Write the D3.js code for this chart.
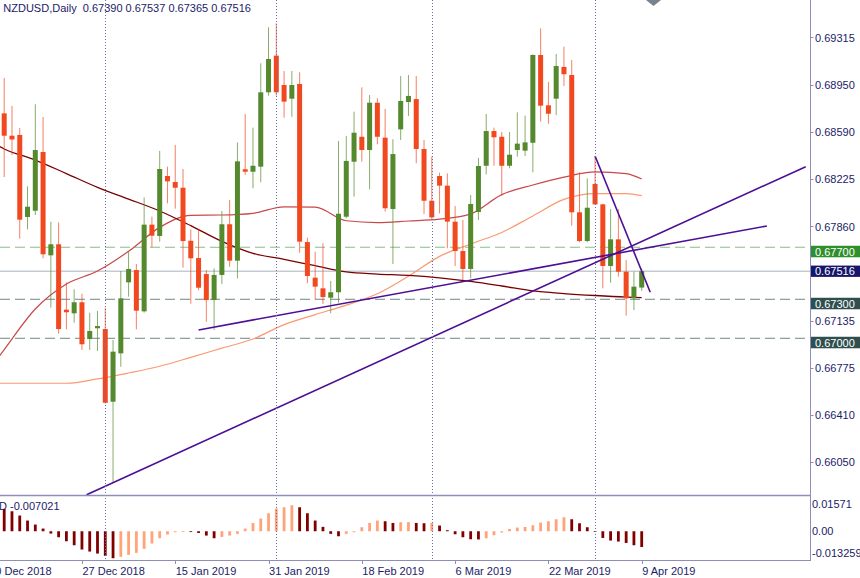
<!DOCTYPE html>
<html><head><meta charset="utf-8">
<script src="https://cdn.jsdelivr.net/npm/d3@7"></script>
<style>
html,body{margin:0;padding:0;background:#fff;}
svg{display:block;font-family:"Liberation Sans",Arial,sans-serif;}
</style></head>
<body>
<svg id="c" width="860" height="578"></svg>
<script>
// ---------------- DATA ----------------
const symbolTitle = "NZDUSD,Daily  0.67390 0.67537 0.67365 0.67516";
const opens  = [.68730,.68558,.68564,.67933,.67981,.68433,.67638,.67723,.67220,.67192,.67277,.66994,.67077,.67071,.66512,.66884,.67430,.67525,.67207,.67874,.67787,.68248,.68202,.68158,.67750,.67617,.67494,.67294,.67487,.67877,.67597,.68300,.68281,.68320,.68892,.69174,.68948,.68843,.68956,.67740,.67466,.67384,.67312,.67354,.67935,.68358,.68550,.68448,.68812,.68543,.67994,.68607,.68817,.68840,.68456,.68058,.68248,.68174,.67897,.67671,.67533,.67971,.68327,.68594,.68550,.68327,.68448,.68443,.68504,.69179,.68792,.68843,.69087,.69025,.67969,.67748,.68187,.68030,.67556,.67761,.67512,.67307,.67390];
const highs  = [.69002,.68787,.68617,.68169,.68800,.68702,.67897,.67892,.67430,.67377,.67343,.67197,.67210,.67235,.66987,.67517,.67666,.67571,.68084,.67935,.68441,.68320,.68487,.68302,.67838,.67838,.67525,.67538,.67979,.68064,.68507,.68725,.68620,.69115,.69392,.69423,.69056,.69056,.69046,.67774,.67666,.67731,.67441,.68517,.68556,.68743,.68930,.68871,.68846,.68764,.68531,.69017,.69025,.69017,.68525,.68397,.68274,.68269,.68017,.67910,.68102,.68387,.68725,.68620,.68587,.68587,.68738,.68712,.69184,.69384,.68971,.69187,.69243,.69140,.68277,.68230,.68397,.68035,.67994,.67994,.67602,.67512,.67537];
const lows   = [.68240,.68410,.67766,.67838,.67948,.67615,.67235,.67035,.67069,.67120,.66910,.66910,.66902,.66498,.65887,.66781,.67320,.67069,.67197,.67700,.67743,.68038,.67997,.67543,.67266,.67371,.67127,.67064,.67417,.67550,.67461,.68256,.68154,.68200,.68866,.68866,.68697,.68704,.67658,.67423,.67300,.67264,.67192,.67274,.67923,.68089,.68358,.68146,.68492,.67974,.67571,.68525,.68710,.68346,.67956,.67915,.67961,.67692,.67556,.67448,.67461,.67910,.68261,.68327,.68097,.68307,.68397,.68402,.68277,.68666,.68650,.68717,.68940,.67866,.67738,.67738,.68028,.67384,.67427,.67474,.67174,.67217,.67365];
const closes = [.68558,.68529,.67912,.68012,.68448,.67646,.67723,.67071,.67200,.67277,.66954,.67056,.67094,.66504,.66897,.67307,.67533,.67212,.67874,.67789,.68302,.68207,.68158,.67748,.67615,.67389,.67294,.67487,.67877,.67597,.68361,.68281,.68327,.68892,.69148,.68892,.68820,.68948,.67743,.67479,.67397,.67317,.67354,.67958,.68364,.68581,.68448,.68812,.68550,.68000,.68417,.68825,.68864,.68456,.68058,.67930,.68174,.67897,.67671,.67533,.68033,.68325,.68594,.68546,.68327,.68412,.68497,.68507,.69179,.68789,.68727,.69094,.69031,.67969,.67748,.68004,.68030,.67556,.67761,.67512,.67307,.67397,.67516];

// moving averages, read at these bar indices
const maIndex = [-1,0,4,8,12,16,20,24,28,32,36,40,44,48,52,56,60,64,68,72,76,80,82];
const maSlow   = [.68487,.68456,.68371,.68267,.68161,.68071,.67979,.67866,.67745,.67653,.67607,.67558,.67510,.67494,.67483,.67464,.67437,.67402,.67364,.67344,.67329,.67317,.67313];
const maMedium = [.66833,.66913,.67225,.67417,.67517,.67669,.67853,.67946,.67948,.67961,.68011,.68008,.67904,.67890,.67902,.67916,.67957,.68105,.68179,.68240,.68280,.68267,.68225];
const maFast   = [.66654,.66654,.66654,.66654,.66687,.66733,.66785,.66853,.66924,.66994,.67105,.67182,.67255,.67342,.67477,.67630,.67725,.67814,.67941,.68068,.68113,.68113,.68097];

// MACD histogram
const macdLabel = "D -0.007021";
const macdValues = [.00998,.00891,.00700,.00477,.00299,.00120,-.00102,-.00267,-.00446,-.00624,-.00815,-.00905,-.00994,-.01096,-.01203,-.01141,-.01052,-.00963,-.00784,-.00548,-.00312,-.00147,-.00045,-.00031,-.00036,-.00076,-.00192,-.00312,-.00254,-.00192,-.00120,.00120,.00370,.00566,.00802,.01012,.01070,.01159,.01070,.00802,.00477,.00196,-.00116,-.00223,-.00116,-.00045,.00178,.00370,.00477,.00446,.00370,.00401,.00405,.00370,.00357,.00374,.00254,.00045,-.00134,-.00267,-.00357,-.00365,-.00312,-.00178,-.00058,.00102,.00165,.00192,.00267,.00388,.00446,.00535,.00624,.00535,.00357,.00178,.00013,-.00299,-.00414,-.00459,-.00521,-.00624,-.007021];
const macdTicks = [0.01571, 0.00, -0.013259];
const macdTickLabels = ["0.01571","0.00","-0.013259"];

// price axis
const priceTicks = [0.69315,0.68950,0.68590,0.68225,0.67860,0.67135,0.66775,0.66410,0.66050];
// horizontal levels
const levelPrices = [0.67700, 0.67300, 0.67000];
const levelKinds  = ["green","slate","slate"];
const bidPrice = 0.67516;

// trend lines: [startIndex, startPrice, endIndex, endPrice]
const trendStartIdx = [25, 10.6, 76];
const trendStartPx  = [.67064, .65797, .68402];
const trendEndIdx   = [98.1, 103.1, 83.1];
const trendEndPx    = [.67864, .68320, .67354];

// date axis
const dateLabels = ["10 Dec 2018","27 Dec 2018","15 Jan 2019","31 Jan 2019","18 Feb 2019","6 Mar 2019","22 Mar 2019","9 Apr 2019"];
const dateLabelIdx = [-2,10,22,34,46,58,70,82];
// first bar of each month (period separators)
const monthStartIdx = [13,35,55,76];

// ---------------- LAYOUT ----------------
const W=860, H=578;
const axisX = 810.5;
const mainTop = 0, mainBottom = 495.7;
const subTop = 496, subBottom = 561;
const txtColor = "#1b1b66";
const axisColor = "#8e8eb8";
const bullC = "#54892e", bearC = "#f2481f";

const svg = d3.select("#c");
const x = d3.scaleLinear().domain([0,82]).range([4.2,641.7]);
const y = d3.scaleLinear().domain([0.65789,0.69602]).range([mainBottom, mainTop]);
const ym = d3.scaleLinear().domain([-0.013259,0.01571]).range([subBottom, subTop]);

const defs = svg.append("defs");
defs.append("clipPath").attr("id","mainClip").append("rect").attr("x",0).attr("y",0).attr("width",axisX).attr("height",mainBottom);
defs.append("clipPath").attr("id","subClip").append("rect").attr("x",0).attr("y",subTop).attr("width",axisX).attr("height",subBottom-subTop);

const main = svg.append("g").attr("clip-path","url(#mainClip)");
const sub = svg.append("g").attr("clip-path","url(#subClip)");

// period separators
svg.append("g").selectAll("line").data(monthStartIdx).join("line")
  .attr("x1",d=>Math.round(x(d))+0.5).attr("x2",d=>Math.round(x(d))+0.5)
  .attr("y1",0).attr("y2",subBottom)
  .attr("stroke","#6b6bb0").attr("stroke-width",1).attr("stroke-dasharray","1,2");

// horizontal levels
const levelStroke = {green:"#86bf86", slate:"#6f8585"};
const levelFill = {green:"#2f8f2a", slate:"#2f4f4f"};
main.selectAll("line.lvl").data(levelPrices).join("line").attr("class","lvl")
  .attr("x1",0).attr("x2",axisX).attr("y1",d=>y(d)).attr("y2",d=>y(d))
  .attr("stroke",(d,i)=>levelStroke[levelKinds[i]]).attr("stroke-width",1).attr("stroke-dasharray","10,5");
// bid line
main.append("line").attr("x1",0).attr("x2",axisX).attr("y1",y(bidPrice)).attr("y2",y(bidPrice))
  .attr("stroke","#aab2bc").attr("stroke-width",1);

// moving averages
const maLine = vals => d3.line().curve(d3.curveMonotoneX).x((d,i)=>x(maIndex[i])).y(d=>y(d))(vals);
main.append("path").attr("d",maLine(maFast)).attr("fill","none").attr("stroke","#f99a72").attr("stroke-width",1.2);
main.append("path").attr("d",maLine(maMedium)).attr("fill","none").attr("stroke","#c94848").attr("stroke-width",1.2);
main.append("path").attr("d",maLine(maSlow)).attr("fill","none").attr("stroke","#7a0000").attr("stroke-width",1.3);

// candles
const idx = d3.range(opens.length);
const cg = main.append("g");
cg.selectAll("line.w").data(idx).join("line").attr("class","w")
  .attr("x1",i=>x(i)).attr("x2",i=>x(i)).attr("y1",i=>y(highs[i])).attr("y2",i=>y(lows[i]))
  .attr("stroke",i=>closes[i]>=opens[i]?bullC:bearC).attr("stroke-width",1).attr("stroke-opacity",0.7);
cg.selectAll("rect.b").data(idx).join("rect").attr("class","b")
  .attr("x",i=>x(i)-2.5).attr("width",5)
  .attr("y",i=>y(Math.max(opens[i],closes[i])))
  .attr("height",i=>Math.max(1.5,Math.abs(y(opens[i])-y(closes[i]))))
  .attr("fill",i=>closes[i]>=opens[i]?bullC:bearC);

// trend lines
main.selectAll("line.tr").data(trendStartIdx).join("line").attr("class","tr")
  .attr("x1",(d,i)=>x(trendStartIdx[i])).attr("y1",(d,i)=>y(trendStartPx[i]))
  .attr("x2",(d,i)=>x(trendEndIdx[i])).attr("y2",(d,i)=>y(trendEndPx[i]))
  .attr("stroke","#4c0f96").attr("stroke-width",1.6);

// MACD histogram
sub.selectAll("rect").data(macdValues).join("rect")
  .attr("x",(d,i)=>x(i)-1.4).attr("width",2.8)
  .attr("y",d=>Math.min(ym(d),ym(0))).attr("height",d=>Math.max(0.8,Math.abs(ym(d)-ym(0))))
  .attr("fill",(d,i)=> (i>0 && d>=macdValues[i-1]) ? "#ffa479" : "#800000");

// borders
svg.append("line").attr("x1",0).attr("x2",axisX).attr("y1",495.5).attr("y2",495.5).attr("stroke",axisColor).attr("stroke-width",1.6);
svg.append("line").attr("x1",0).attr("x2",axisX).attr("y1",560.5).attr("y2",560.5).attr("stroke",axisColor).attr("stroke-width",1);
svg.append("line").attr("x1",axisX).attr("x2",axisX).attr("y1",0).attr("y2",561).attr("stroke",axisColor).attr("stroke-width",1);

// shift marker
svg.append("path").attr("d","M646,0 L661,0 L653.5,6 Z").attr("fill","#76828e");

// price axis
const pa = svg.append("g");
pa.selectAll("line").data(priceTicks).join("line")
  .attr("x1",axisX).attr("x2",axisX+3).attr("y1",d=>Math.round(y(d))+0.5).attr("y2",d=>Math.round(y(d))+0.5)
  .attr("stroke",axisColor);
pa.selectAll("text").data(priceTicks).join("text")
  .attr("x",815).attr("y",d=>y(d)+4.2).attr("font-size",11).attr("fill",txtColor)
  .text(d=>d.toFixed(5));

// level labels
const lb = svg.append("g");
levelPrices.forEach((p,i)=>{
  const top = y(p)-1.5;
  lb.append("rect").attr("x",811).attr("y",top).attr("width",49).attr("height",11.5).attr("fill",levelFill[levelKinds[i]]);
  lb.append("text").attr("x",815).attr("y",top+9.8).attr("font-size",11).attr("fill","#fff").text(p.toFixed(5));
});
{
  const top = y(bidPrice)-5.6;
  lb.append("rect").attr("x",811).attr("y",top).attr("width",49).attr("height",11.3).attr("fill","#16166a");
  lb.append("text").attr("x",815).attr("y",top+9.8).attr("font-size",11).attr("fill","#fff").text(bidPrice.toFixed(5));
}

// MACD axis
svg.selectAll("text.ml").data(macdTicks).join("text").attr("class","ml")
  .attr("x",812).attr("y",(d,i)=>[507.8,535.3,557][i]).attr("font-size",11).attr("fill",txtColor)
  .text((d,i)=>macdTickLabels[i]);
svg.append("text").attr("x",-1).attr("y",510).attr("font-size",11).attr("fill",txtColor).text(macdLabel);

// date axis
svg.selectAll("line.dt").data(dateLabelIdx).join("line").attr("class","dt")
  .attr("x1",d=>Math.round(x(d))+0.5).attr("x2",d=>Math.round(x(d))+0.5).attr("y1",561).attr("y2",564)
  .attr("stroke",axisColor);
svg.selectAll("text.dt").data(dateLabels).join("text").attr("class","dt")
  .attr("x",(d,i)=>x(dateLabelIdx[i])+0.5).attr("y",574.5).attr("font-size",11).attr("fill",txtColor).text(d=>d);

// title
svg.append("text").attr("x",3.3).attr("y",11.8).attr("font-size",11).attr("fill",txtColor)
  .style("white-space","pre").text(symbolTitle);
</script>
</body></html>
